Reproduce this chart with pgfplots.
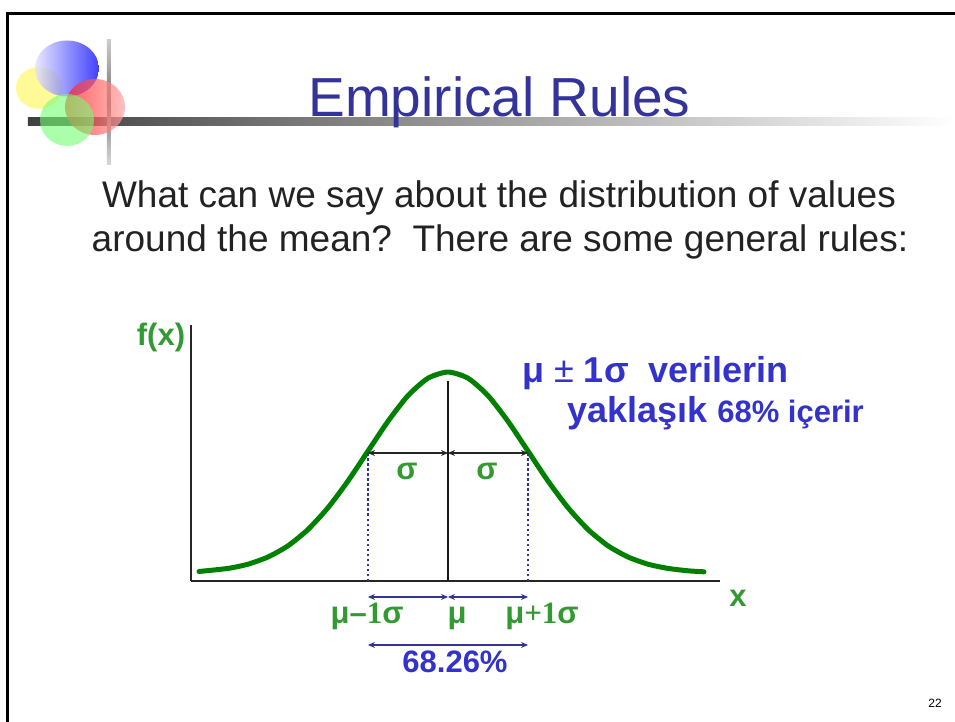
\documentclass[border=0pt]{standalone}
\usepackage{fontspec}
\setmainfont{Liberation Sans}
\newfontfamily\serifone{Liberation Serif}
\usepackage{pgfplots}
\pgfplotsset{compat=1.18}
\usetikzlibrary{arrows.meta}
\definecolor{titleblue}{HTML}{333399}
\definecolor{txtblue}{HTML}{3333CC}
\definecolor{arrblue}{HTML}{333399}
\definecolor{txtgreen}{HTML}{339933}
\definecolor{curvegreen}{HTML}{008000}
\definecolor{bodytext}{HTML}{222222}
\newcommand{\fs}[1]{\fontsize{#1}{#1}\selectfont}
\begin{document}
\begin{tikzpicture}
\begin{axis}[
  scale only axis, width=529pt, height=256pt,
  xmin=191, xmax=720, ymin=0, ymax=256,
  axis lines=left, axis line style={-, line width=2.4pt, color=black!85},
  xtick=\empty, ytick=\empty, clip=false,
]
% page frame coordinates
\coordinate (BL) at (axis cs:0,-141);
\coordinate (TR) at (axis cs:955,581);
% slide border
\draw[line width=3pt, black] (axis cs:8,-160) -- (axis cs:8,567) -- (axis cs:970,567);
% logo bars
\shade[left color=black!75, right color=white] (axis cs:28,463) rectangle (axis cs:955,455);
\shade[top color=black!20, bottom color=black!15, middle color=black!55] (axis cs:107,541) rectangle (axis cs:111,416);
% logo circles
\fill[yellow!55, opacity=0.75] (axis cs:39,493) ellipse [x radius=23pt, y radius=21pt];
\shade[left color=blue!12, right color=blue, opacity=0.75] (axis cs:67,512.5) ellipse [x radius=32pt, y radius=28pt];
\shade[left color=red!90, right color=red!35, opacity=0.7] (axis cs:95,474) ellipse [x radius=30pt, y radius=28pt];
\fill[green!55!white, opacity=0.6] (axis cs:67,461) ellipse [x radius=27pt, y radius=26pt];
% title and body text
\node[anchor=base, font=\fs{55}, text=titleblue, inner sep=0pt] at (axis cs:499.5,464) {Empirical Rules};
\node[anchor=base, font=\fs{37}, text=bodytext, inner sep=0pt] at (axis cs:499,373) {What can we say about the distribution of values};
\node[anchor=base, font=\fs{37}, text=bodytext, inner sep=0pt] at (axis cs:500,329) {around the mean?\ \ There are some general rules:};
% normal curve
\addplot[color=curvegreen, line width=5pt, line join=round, line cap=round, smooth, tension=0.4] coordinates {
(199,9.5) (228,12.6) (248,16.8) (268,24.0) (288,35.2) (308,51.5) (328,73.3)
(348,100.0) (368,129.9) (388,159.7) (408,185.4) (428,202.8) (448,209)
(468,202.8) (488,185.4) (508,159.7) (528,129.9) (548,100.0) (568,73.3)
(588,51.5) (608,35.2) (628,24.0) (648,16.8) (668,12.6) (688,10.2) (704,9.2)};
% mean line and sigma lines
\addplot[color=black!90, line width=1.6pt] coordinates {(448,0) (448,200)};
\addplot[color=arrblue, line width=2.5pt, dash pattern=on 2.5pt off 2.5pt] coordinates {(368,0) (368,128)};
\addplot[color=arrblue, line width=2.5pt, dash pattern=on 2.5pt off 2.5pt] coordinates {(528,0) (528,128)};
% sigma arrows
\draw[{Stealth[length=7pt,width=6pt]}-{Stealth[length=7pt,width=6pt]}, line width=1.1pt, black!85] (axis cs:368,128) -- (axis cs:448,128);
\draw[{Stealth[length=7pt,width=6pt]}-{Stealth[length=7pt,width=6pt]}, line width=1.1pt, black!85] (axis cs:448,128) -- (axis cs:528,128);
\node[anchor=base, inner sep=0pt, font=\bfseries\fs{31}, text=txtgreen] at (axis cs:407,101) {σ};
\node[anchor=base, inner sep=0pt, font=\bfseries\fs{31}, text=txtgreen] at (axis cs:487,101) {σ};
% axis labels
\node[font=\bfseries\fs{31}, text=txtgreen] at (axis cs:161,244) {f(x)};
\node[font=\bfseries\fs{31}, text=txtgreen] at (axis cs:738,-17) {x};
% below-axis arrows
\draw[{Stealth[length=7pt,width=6pt]}-{Stealth[length=7pt,width=6pt]}, line width=1.2pt, arrblue] (axis cs:368,-16) -- (axis cs:448,-16);
\draw[{Stealth[length=7pt,width=6pt]}-{Stealth[length=7pt,width=6pt]}, line width=1.2pt, arrblue] (axis cs:448,-16) -- (axis cs:528,-16);
\draw[{Stealth[length=7pt,width=6pt]}-{Stealth[length=7pt,width=6pt]}, line width=1.2pt, arrblue] (axis cs:368,-64) -- (axis cs:528,-64);
\node[anchor=base, inner sep=0pt, font=\bfseries\fs{31}, text=txtgreen] at (axis cs:367,-42) {μ–{\serifone 1}σ};
\node[anchor=base, inner sep=0pt, font=\bfseries\fs{31}, text=txtgreen] at (axis cs:457,-42) {μ};
\node[anchor=base, inner sep=0pt, font=\bfseries\fs{31}, text=txtgreen] at (axis cs:542,-42) {μ{\serifone +1}σ};
\node[anchor=base, inner sep=0pt, font=\bfseries\fs{31}, text=txtblue] at (axis cs:455,-91) {68.26\%};
% annotation
\node[anchor=base west, font=\bfseries\fs{36}, text=txtblue, inner sep=0pt] at (axis cs:522,198) {μ {\mdseries ±} 1σ\ \ verilerin};
\node[anchor=base west, font=\bfseries\fs{36}, text=txtblue, inner sep=0pt] at (axis cs:567,158) {yaklaşık {\fs{31}68\% içerir}};
% page number
\node[font=\fs{12}, text=black] at (axis cs:935,-122) {22};
\end{axis}
\pgfresetboundingbox
\path (BL) rectangle (TR);
\end{tikzpicture}
\end{document}
